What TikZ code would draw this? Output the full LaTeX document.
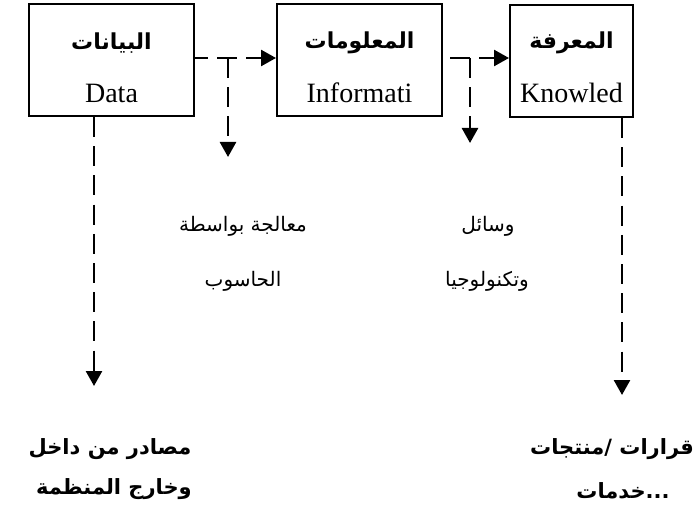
\documentclass[tikz,border=0pt]{standalone}
\usepackage{fontspec}
\setmainfont{Liberation Serif}
\newfontfamily\arabicfont[Script=Arabic]{DejaVu Sans}
\TeXXeTstate=1
\usetikzlibrary{arrows.meta}
\newcommand{\rtl}[1]{\beginR #1\endR}

\begin{document}
\begin{tikzpicture}[x=0.5pt, y=-0.5pt,
    box/.style={draw, line width=1pt, minimum height=56pt, inner sep=0pt},
    artitle/.style={font=\arabicfont\bfseries\fontsize{11}{13}\selectfont, inner sep=0pt},
    entitle/.style={font=\fontsize{14}{16}\selectfont, inner sep=0pt, anchor=base},
    midlabel/.style={font=\arabicfont\fontsize{10}{12}\selectfont, inner sep=0pt},
    endlabel/.style={font=\arabicfont\bfseries\fontsize{10.5}{13}\selectfont, inner sep=0pt},
    link/.style={line width=1.3pt, dash pattern=on 10pt off 4.6pt, -{Triangle[length=7.5pt,width=8pt]}}]
    \useasboundingbox (0,0) rectangle (700,518);

    % Boxes
    \node[box, minimum width=82.5pt] (data) at (111.5,60) {};
    \node[box, minimum width=82.5pt] (info) at (359.5,60.5) {};
    \node[box, minimum width=61.5pt] (know) at (571.5,61) {};

    % Box texts
    \node[artitle] (datatitle) at (111.5,43) {\rtl{البيانات}};
    \node[entitle] (dataname) at (111.5,103) {Data};
    \node[artitle] (infotitle) at (359.5,43) {\rtl{المعلومات}};
    \node[entitle] (infoname) at (359.5,103) {Informati};
    \node[artitle] (knowtitle) at (571.5,43) {\rtl{المعرفة}};
    \node[entitle] (knowname) at (571.5,103) {Knowled};

    % Branch points and arrow ends
    \coordinate (proc) at (228,58);
    \coordinate (proctip) at (228,157);
    \coordinate (tech) at (470,58);
    \coordinate (techtip) at (470,143);
    \coordinate (src) at (94,386);
    \coordinate (out) at (622,395);

    % Dashed connectors
    \draw[link, dash phase=3.5pt] (data.east |- proc) -- (info.west |- proc);
    \draw[link] (proc) -- (proctip);
    \draw[link, dash phase=11pt] (info.east |- tech) -- (know.west |- tech);
    \draw[link] (tech) -- (techtip);
    \draw[link] (data.south -| src) -- (src);
    \draw[link] (know.south -| out) -- (out);

    % Middle labels
    \node[midlabel] (proc1) at (243,226) {\rtl{معالجة بواسطة}};
    \node[midlabel] (proc2) at (243,281) {\rtl{الحاسوب}};
    \node[midlabel] (tech1) at (488,226) {\rtl{وسائل}};
    \node[midlabel] (tech2) at (487,281) {\rtl{وتكنولوجيا}};

    % Bottom labels
    \node[endlabel] (src1) at (110,449) {\rtl{مصادر من داخل}};
    \node[endlabel] (src2) at (114,489) {\rtl{وخارج المنظمة}};
    \node[endlabel] (out1) at (612,449) {\rtl{قرارات /منتجات}};
    \node[endlabel] (out2) at (623,491) {\rtl{خدمات}...};
\end{tikzpicture}
\end{document}
